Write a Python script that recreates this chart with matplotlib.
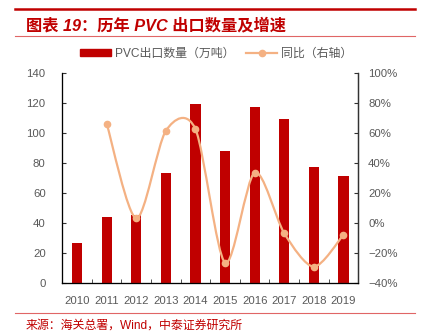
import matplotlib
matplotlib.use('Agg')
import matplotlib.pyplot as plt
from matplotlib.lines import Line2D
from matplotlib.patches import PathPatch
from matplotlib.path import Path

plt.rcParams['font.family'] = ['Liberation Sans', 'Noto Sans CJK SC', 'DejaVu Sans']
plt.rcParams['axes.unicode_minus'] = True

# 数据
years = ['2010', '2011', '2012', '2013', '2014', '2015', '2016', '2017', '2018', '2019']
export_qty = [26.7, 44.4, 45.5, 73.8, 119.5, 88.0, 117.3, 109.3, 77.5, 71.7]
yoy_years = ['2011', '2012', '2013', '2014', '2015', '2016', '2017', '2018', '2019']
yoy_pct = [66.4, 3.3, 61.7, 62.7, -26.3, 33.8, -6.7, -28.9, -7.6]
left_ticks = [0, 20, 40, 60, 80, 100, 120, 140]
right_ticks = [-40, -20, 0, 20, 40, 60, 80, 100]

bar_color = '#C00000'
line_color = '#F4B183'
text_gray = '#595959'


def smooth_path(xs, ys, k=7.0):
    # Bezier segments through the points (Catmull-Rom style, like Excel smoothing)
    verts = [(xs[0], ys[0])]
    codes = [Path.MOVETO]
    n = len(xs)
    for i in range(n - 1):
        x0, y0 = (xs[i - 1], ys[i - 1]) if i > 0 else (xs[i], ys[i])
        x1, y1 = xs[i], ys[i]
        x2, y2 = xs[i + 1], ys[i + 1]
        x3, y3 = (xs[i + 2], ys[i + 2]) if i + 2 < n else (xs[i + 1], ys[i + 1])
        c1 = (x1 + (x2 - x0) / k, y1 + (y2 - y0) / k)
        c2 = (x2 - (x3 - x1) / k, y2 - (y3 - y1) / k)
        verts += [c1, c2, (x2, y2)]
        codes += [Path.CURVE4, Path.CURVE4, Path.CURVE4]
    return Path(verts, codes)


fig = plt.figure(figsize=(4.27, 3.35), dpi=100)
ax = fig.add_axes([0.1459, 0.1543, 0.6932, 0.6269])

x = list(range(len(years)))
ax.bar(x, export_qty, width=0.34, color=bar_color, zorder=2)
ax.set_xlim(-0.5, len(years) - 0.5)
ax.set_ylim(0, 140)
ax.set_yticks(left_ticks)
ax.set_xticks(x)
ax.set_xticklabels(years)
ax.set_xticks([i + 0.5 for i in range(len(years) - 1)], minor=True)
ax.tick_params(axis='x', which='major', length=0, pad=9, labelsize=8.2, labelcolor=text_gray)
ax.tick_params(axis='x', which='minor', direction='in', length=3, color='#333333')
ax.tick_params(axis='y', direction='in', length=3, pad=12, labelsize=8.2,
               labelcolor=text_gray, color='#333333')
ax.spines['top'].set_visible(False)
for s in ['left', 'right', 'bottom']:
    ax.spines[s].set_color('#333333')
    ax.spines[s].set_linewidth(0.9)

ax2 = ax.twinx()
ax2.set_ylim(-40, 100)
ax2.set_yticks(right_ticks)
ax2.set_yticklabels([f'{v}%'.replace('-', '\u2212') for v in right_ticks])
ax2.tick_params(axis='y', direction='in', length=3, pad=7, labelsize=8.2,
                labelcolor=text_gray, color='#333333')
ax2.spines['top'].set_visible(False)
ax2.spines['right'].set_color('#333333')
ax2.spines['right'].set_linewidth(0.9)

lx = [years.index(y) for y in yoy_years]
ax2.add_patch(PathPatch(smooth_path(lx, yoy_pct), fill=False, edgecolor=line_color,
                        linewidth=1.6, zorder=3))
ax2.plot(lx, yoy_pct, linestyle='none', marker='o', markersize=4.5,
         color=line_color, zorder=4)

handles = [
    plt.Rectangle((0, 0), 1, 1, color=bar_color),
    Line2D([0], [0], color=line_color, linewidth=1.6, marker='o', markersize=4.5),
]
fig.legend(handles, ['PVC出口数量（万吨）', '同比（右轴）'], loc='center',
           bbox_to_anchor=(0.506, 0.839), ncol=2, frameon=False, fontsize=8.6,
           handlelength=2.6, handleheight=0.5, columnspacing=1.0, handletextpad=0.3,
           labelcolor=text_gray)

# 标题和装饰线
fig.add_artist(Line2D([0.035, 0.972], [0.973, 0.973], color=bar_color, linewidth=1.8,
                      transform=fig.transFigure))
fig.add_artist(Line2D([0.035, 0.972], [0.8925, 0.8925], color='#E06666', linewidth=0.8,
                      transform=fig.transFigure))
fig.add_artist(Line2D([0.035, 0.972], [0.0657, 0.0657], color='#E06666', linewidth=0.8,
                      transform=fig.transFigure))
fig.text(0.06, 0.925, '图表 19：历年 PVC 出口数量及增速', color=bar_color, fontsize=11.7,
         fontweight='bold', style='italic', va='center', ha='left')
fig.text(0.06, 0.027, '来源：海关总署，Wind，中泰证券研究所', color=bar_color, fontsize=8.6,
         va='center', ha='left')

fig.savefig('out.png', dpi=100)
